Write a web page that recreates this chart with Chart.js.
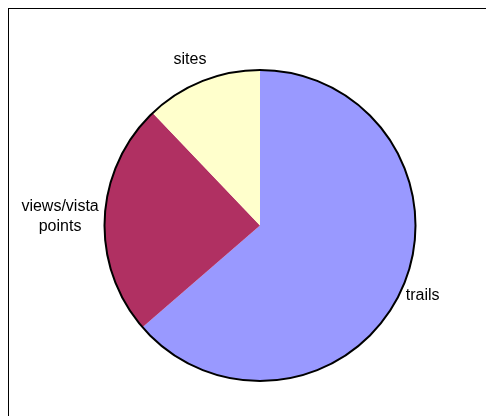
<!DOCTYPE html>
<html>
<head>
<meta charset="utf-8">
<script src="https://cdn.jsdelivr.net/npm/chart.js@4/dist/chart.umd.min.js"></script>
<style>
  html, body { margin: 0; padding: 0; background: #fff; overflow: hidden; }
  #frame { position: absolute; left: 8px; top: 8px; width: 500px; height: 430px; border: 1px solid #000; }
  #pieChart { position: absolute; left: 0; top: 0; }
</style>
</head>
<body>
<div id="frame"></div>
<canvas id="pieChart" width="486" height="416"></canvas>
<script>
// datos del grafico
const categories = ['trails', ['views/vista', 'points'], 'sites'];
const values = [21, 8, 4];
const sliceColors = ['#9999FF', '#B03062', '#FFFFCC'];

// contorno exterior del circulo y etiquetas fuera del pastel
const outsideLabels = {
    id: 'outsideLabels',
    afterDatasetsDraw(chart) {
        const ctx = chart.ctx;
        const arcs = chart.getDatasetMeta(0).data;
        const cx = arcs[0].x, cy = arcs[0].y, r = arcs[0].outerRadius;

        ctx.save();
        ctx.beginPath();
        ctx.arc(cx, cy, r, 0, Math.PI * 2);
        ctx.lineWidth = 2;
        ctx.strokeStyle = '#000';
        ctx.stroke();

        ctx.font = '16px "Liberation Sans", Arial, sans-serif';
        ctx.fillStyle = '#000';
        ctx.textAlign = 'center';
        ctx.textBaseline = 'middle';
        const lineH = 20;
        arcs.forEach((arc, i) => {
            const mid = (arc.startAngle + arc.endAngle) / 2;
            const dx = Math.cos(mid), dy = Math.sin(mid);
            const lines = [].concat(chart.data.labels[i]);
            const w = Math.max(...lines.map(l => ctx.measureText(l).width));
            const h = lines.length * lineH - 6;
            const gap = 6 + 14 * Math.pow(dy, 4);
            const x = cx + dx * (r + gap) + dx * w / 2;
            const y = cy + dy * (r + gap) + dy * h / 2;
            lines.forEach((l, k) => {
                ctx.fillText(l, x, y + (k - (lines.length - 1) / 2) * lineH);
            });
        });
        ctx.restore();
    }
};

new Chart(document.getElementById('pieChart'), {
    type: 'pie',
    data: {
        labels: categories,
        datasets: [{
            data: values,
            backgroundColor: sliceColors,
            borderWidth: 0
        }]
    },
    options: {
        responsive: false,
        animation: false,
        layout: { padding: { top: 70, bottom: 35, left: 60, right: 26 } },
        plugins: {
            legend: { display: false },
            tooltip: { enabled: false }
        }
    },
    plugins: [outsideLabels]
});
</script>
</body>
</html>
